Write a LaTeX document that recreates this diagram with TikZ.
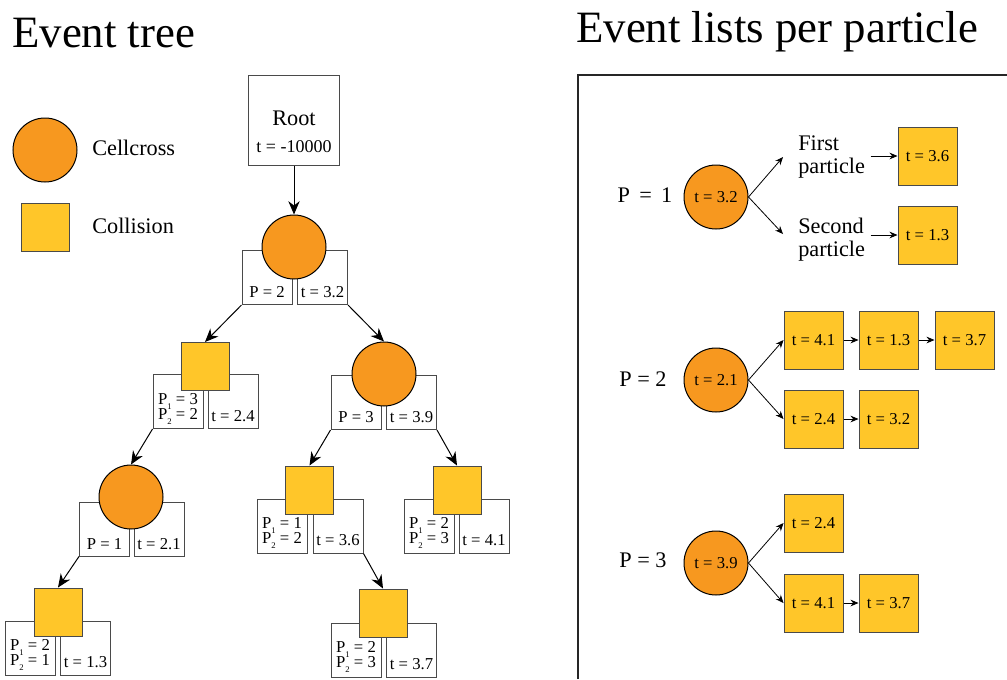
\documentclass[tikz,border=0pt]{standalone}
\usepackage{fontspec}
\setmainfont{Liberation Serif}
\usetikzlibrary{arrows.meta}
\definecolor{cellor}{HTML}{F7981F}
\definecolor{collyel}{HTML}{FFC629}
\definecolor{edgegray}{HTML}{4A4A4A}
\newcommand\psub[1]{\raisebox{-0.3em}{\fontsize{6.5}{6.5}\selectfont #1}}
\begin{document}
\begin{tikzpicture}[x=0.75pt,y=-0.75pt,
 cellnode/.style={circle, draw=black, fill=cellor, line width=0.75pt, minimum size=48pt, inner sep=0pt},
 collnode/.style={rectangle, draw=edgegray, fill=collyel, line width=0.75pt, minimum size=36pt, inner sep=0pt},
 rcell/.style={cellnode, font=\fontsize{12.5}{14}\selectfont},
 rcoll/.style={rectangle, draw=edgegray, fill=collyel, line width=0.75pt, minimum width=44.25pt, minimum height=43.5pt, inner sep=0pt, font=\fontsize{12.5}{14}\selectfont},
 lblbox/.style={rectangle, draw=edgegray, fill=white, line width=0.75pt, minimum width=37.5pt, minimum height=40.5pt, inner sep=0pt},
 lbltxt/.style={anchor=base, font=\fontsize{12.5}{14}\selectfont, inner sep=0pt},
 bigtxt/.style={font=\fontsize{16.7}{17.25}\selectfont, inner sep=0pt},
 titletxt/.style={anchor=base west, font=\fontsize{33.6}{36}\selectfont, inner sep=0pt},
 treearrow/.style={draw=black, line width=0.75pt, -{Stealth[length=10pt,width=8.5pt]}},
 listarrow/.style={draw=black, line width=0.6pt, -{Stealth[length=6pt,width=5pt]}}
]
\useasboundingbox (0,0) rectangle (1007,679);

% titles
\node[titletxt] (t1) at (12,47) {Event tree};
\node[titletxt] (t2) at (576,42) {Event lists per particle};

% legend
\node[cellnode] (legc) at (45,150) {};
\node[collnode] (legs) at (45,227.5) {};
\node[bigtxt, anchor=west] (legct) at (92,148) {Cellcross};
\node[bigtxt, anchor=west] (legst) at (92,226) {Collision};

% root
\node[rectangle, draw=edgegray, fill=white, line width=0.75pt, minimum width=68.25pt, minimum height=67.5pt, inner sep=0pt] (root) at (294,120) {};
\node[bigtxt, anchor=base] (roott) at (294,125) {Root};
\node[lbltxt, font=\fontsize{13.5}{15}\selectfont] (rootv) at (294,152) {t = -10000};

% label boxes
\node[lblbox] (b1l) at (267,277.5) {};
\node[lblbox] (b1r) at (322.5,277.5) {};
\node[lblbox] (b2l) at (178,401.5) {};
\node[lblbox] (b2r) at (233,401.5) {};
\node[lblbox] (b3l) at (356,402.5) {};
\node[lblbox] (b3r) at (411.5,402.5) {};
\node[lblbox] (b4l) at (104.5,529) {};
\node[lblbox] (b4r) at (159,529) {};
\node[lblbox] (bAl) at (282,526) {};
\node[lblbox] (bAr) at (338,526) {};
\node[lblbox] (bBl) at (429,526) {};
\node[lblbox] (bBr) at (484,526) {};
\node[lblbox] (bCl) at (30,648) {};
\node[lblbox] (bCr) at (85.5,648) {};
\node[lblbox] (bDl) at (356,650) {};
\node[lblbox] (bDr) at (411.5,650) {};

% label texts
\node[lbltxt] at (267,297) {P = 2};
\node[lbltxt] at (322.5,297) {t = 3.2};
\node[lbltxt] at (178,404) {P\psub{1} = 3};
\node[lbltxt] at (178,419) {P\psub{2} = 2};
\node[lbltxt] at (233,421) {t = 2.4};
\node[lbltxt] at (356,422) {P = 3};
\node[lbltxt] at (411.5,422) {t = 3.9};
\node[lbltxt] at (104.5,549) {P = 1};
\node[lbltxt] at (159,549) {t = 2.1};
\node[lbltxt] at (282,528) {P\psub{1} = 1};
\node[lbltxt] at (282,543) {P\psub{2} = 2};
\node[lbltxt] at (338,545) {t = 3.6};
\node[lbltxt] at (429,528) {P\psub{1} = 2};
\node[lbltxt] at (429,543) {P\psub{2} = 3};
\node[lbltxt] at (484,545) {t = 4.1};
\node[lbltxt] at (30,650) {P\psub{1} = 2};
\node[lbltxt] at (30,665) {P\psub{2} = 1};
\node[lbltxt] at (85.5,667) {t = 1.3};
\node[lbltxt] at (356,652) {P\psub{1} = 2};
\node[lbltxt] at (356,667) {P\psub{2} = 3};
\node[lbltxt] at (411.5,669) {t = 3.7};

% tree shapes
\node[cellnode] (c1) at (294,247) {};
\node[collnode] (sq2) at (205,366.5) {};
\node[cellnode] (c3) at (384,374) {};
\node[cellnode] (c4) at (131,497) {};
\node[collnode] (sqA) at (309.5,490) {};
\node[collnode] (sqB) at (457,490) {};
\node[collnode] (sqC) at (58,612) {};
\node[collnode] (sqD) at (383,613) {};

% tree arrows
\draw[treearrow] (root.south) -- (c1.north);
\draw[treearrow] (b1l.south west) -- (sq2.north);
\draw[treearrow] (b1r.south east) -- (c3.north);
\draw[treearrow] (b2l.south west) -- (c4.north);
\draw[treearrow] (b3l.south west) -- (sqA.north);
\draw[treearrow] (b3r.south east) -- (sqB.north);
\draw[treearrow] (b4l.south west) -- (sqC.north);
\draw[treearrow] (bAr.south east) -- (sqD.north);

% right panel frame
\draw[line width=0.9pt, draw=black!85] (578,679) -- (578,75) -- (1007,75);

% P = 1
\node[bigtxt] (p1) at (645,195) {P\ \,=\ \,1};
\node[rcell] (rc1) at (716,197) {t = 3.2};
\coordinate (a1) at (783,157);
\coordinate (a2) at (783,234);
\node[bigtxt, anchor=west, align=left] (fp) at (798,157) {First\\particle};
\node[bigtxt, anchor=west, align=left] (sp) at (798,240) {Second\\particle};
\node[rcoll] (r36) at (927.5,156) {t = 3.6};
\node[rcoll] (r13) at (927.5,235) {t = 1.3};
\draw[listarrow] (rc1.east) -- (a1);
\draw[listarrow] (rc1.east) -- (a2);
\draw[listarrow] ([xshift=4pt]fp.east |- r36.west) -- (r36.west);
\draw[listarrow] ([xshift=4pt]sp.east |- r13.west) -- (r13.west);

% P = 2
\node[bigtxt] (p2) at (643,379) {P = 2};
\node[rcell] (rc2) at (716,380) {t = 2.1};
\node[rcoll] (r41a) at (813.5,340) {t = 4.1};
\node[rcoll] (r13a) at (888.5,340) {t = 1.3};
\node[rcoll] (r37a) at (964.5,340) {t = 3.7};
\node[rcoll] (r24a) at (813.5,419) {t = 2.4};
\node[rcoll] (r32a) at (888.5,419) {t = 3.2};
\draw[listarrow] (rc2.east) -- (r41a.west);
\draw[listarrow] (rc2.east) -- (r24a.west);
\draw[listarrow] (r41a.east) -- (r13a.west);
\draw[listarrow] (r13a.east) -- (r37a.west);
\draw[listarrow] (r24a.east) -- (r32a.west);

% P = 3
\node[bigtxt] (p3) at (643,560) {P = 3};
\node[rcell] (rc3) at (716,563) {t = 3.9};
\node[rcoll] (r24b) at (813.5,523) {t = 2.4};
\node[rcoll] (r41b) at (813.5,603) {t = 4.1};
\node[rcoll] (r37b) at (888.5,603) {t = 3.7};
\draw[listarrow] (rc3.east) -- (r24b.west);
\draw[listarrow] (rc3.east) -- (r41b.west);
\draw[listarrow] (r41b.east) -- (r37b.west);
\end{tikzpicture}
\end{document}
